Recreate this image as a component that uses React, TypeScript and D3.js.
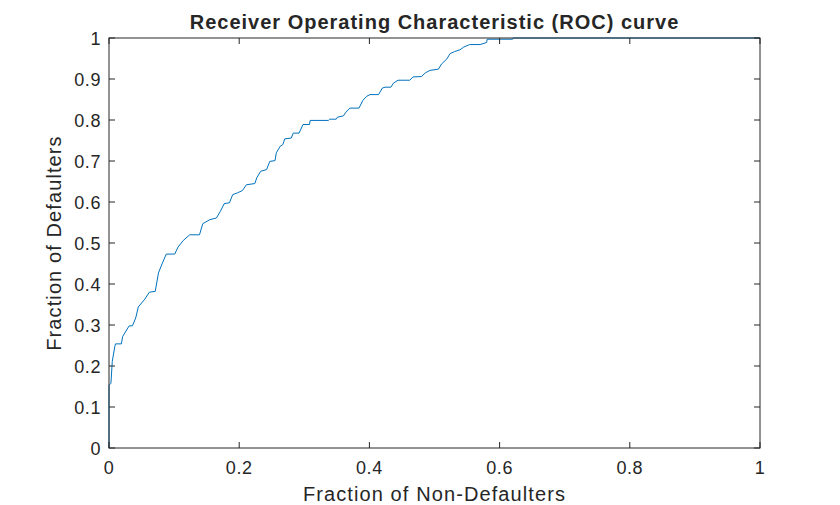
import * as d3 from "d3";

// ROC curve points: false positive rate / true positive rate
const fpr = [
  0, 0, 0.003, 0.005, 0.009, 0.01, 0.019, 0.021, 0.031, 0.036, 0.041, 0.045, 0.055,
  0.062, 0.071, 0.076, 0.082, 0.088, 0.101, 0.106, 0.114, 0.124, 0.139, 0.144,
  0.155, 0.165, 0.171, 0.177, 0.185, 0.19, 0.197, 0.205, 0.211, 0.224, 0.227,
  0.233, 0.242, 0.247, 0.255, 0.257, 0.263, 0.267, 0.27, 0.28, 0.283, 0.292,
  0.298, 0.308, 0.309, 0.337, 0.339, 0.349, 0.351, 0.36, 0.364, 0.37, 0.384,
  0.39, 0.396, 0.401, 0.414, 0.42, 0.424, 0.433, 0.437, 0.444, 0.462, 0.467,
  0.48, 0.486, 0.493, 0.506, 0.511, 0.519, 0.524, 0.531, 0.539, 0.545, 0.554,
  0.57, 0.58, 0.581, 0.62, 0.621, 1,
];
const tpr = [
  0, 0.153, 0.158, 0.211, 0.248, 0.254, 0.254, 0.272, 0.298, 0.298, 0.317, 0.344,
  0.363, 0.38, 0.382, 0.427, 0.451, 0.473, 0.473, 0.49, 0.506, 0.52, 0.52, 0.547,
  0.557, 0.561, 0.577, 0.596, 0.598, 0.618, 0.622, 0.628, 0.642, 0.645, 0.659,
  0.675, 0.679, 0.699, 0.701, 0.72, 0.736, 0.74, 0.754, 0.756, 0.768, 0.768,
  0.789, 0.789, 0.799, 0.799, 0.802, 0.802, 0.807, 0.81, 0.819, 0.829, 0.829,
  0.848, 0.858, 0.862, 0.862, 0.878, 0.88, 0.88, 0.89, 0.897, 0.897, 0.905,
  0.906, 0.915, 0.921, 0.924, 0.937, 0.949, 0.962, 0.967, 0.971, 0.978, 0.984,
  0.984, 0.989, 0.997, 0.997, 1, 1,
];
const xTicks = [0, 0.2, 0.4, 0.6, 0.8, 1];
const yTicks = [0, 0.1, 0.2, 0.3, 0.4, 0.5, 0.6, 0.7, 0.8, 0.9, 1];

const W = 840;
const H = 505;
const mg = { top: 38, right: 80, bottom: 57, left: 109 };
const ink = "#262626";
const font = "Liberation Sans, Arial, sans-serif";

export default function App() {
  const x = d3.scaleLinear([0, 1], [mg.left, W - mg.right]);
  const y = d3.scaleLinear([0, 1], [H - mg.bottom, mg.top]);
  const pts = fpr.map((f, i) => [f, tpr[i]] as [number, number]);
  const line = d3
    .line<[number, number]>()
    .x((d) => x(d[0]))
    .y((d) => y(d[1]));

  return (
    <svg
      width={W}
      height={H}
      style={{ position: "absolute", left: 0, top: 0, background: "#fff" }}
      fontFamily={font}
    >
      <rect width={W} height={H} fill="#fff" />
      <path d={line(pts) ?? ""} fill="none" stroke="#0072BD" strokeWidth={1} />

      <rect
        x={mg.left}
        y={mg.top}
        width={W - mg.left - mg.right}
        height={H - mg.top - mg.bottom}
        fill="none"
        stroke={ink}
        strokeWidth={1}
      />

      {xTicks.map((t) => (
        <g key={t}>
          <line x1={x(t)} x2={x(t)} y1={y(0)} y2={y(0) - 6} stroke={ink} />
          <line x1={x(t)} x2={x(t)} y1={y(1)} y2={y(1) + 6} stroke={ink} />
          <text
            x={x(t)}
            y={y(0) + 26}
            textAnchor="middle"
            fontSize={18}
            letterSpacing={0.6}
            fill={ink}
          >
            {t}
          </text>
        </g>
      ))}
      {yTicks.map((t) => (
        <g key={t}>
          <line x1={x(0)} x2={x(0) + 6} y1={y(t)} y2={y(t)} stroke={ink} />
          <line x1={x(1)} x2={x(1) - 6} y1={y(t)} y2={y(t)} stroke={ink} />
          <text
            x={x(0) - 8}
            y={y(t) + 7}
            textAnchor="end"
            fontSize={18}
            letterSpacing={0.6}
            fill={ink}
          >
            {t}
          </text>
        </g>
      ))}

      <text
        x={(mg.left + W - mg.right) / 2}
        y={29}
        textAnchor="middle"
        fontSize={20}
        fontWeight="bold"
        letterSpacing={1}
        fill={ink}
      >
        Receiver Operating Characteristic (ROC) curve
      </text>
      <text
        x={(mg.left + W - mg.right) / 2}
        y={501}
        textAnchor="middle"
        fontSize={20}
        letterSpacing={1.1}
        fill={ink}
      >
        Fraction of Non-Defaulters
      </text>
      <text
        transform={`translate(61, ${(mg.top + H - mg.bottom) / 2}) rotate(-90)`}
        textAnchor="middle"
        fontSize={20}
        letterSpacing={1.1}
        fill={ink}
      >
        Fraction of Defaulters
      </text>
    </svg>
  );
}
